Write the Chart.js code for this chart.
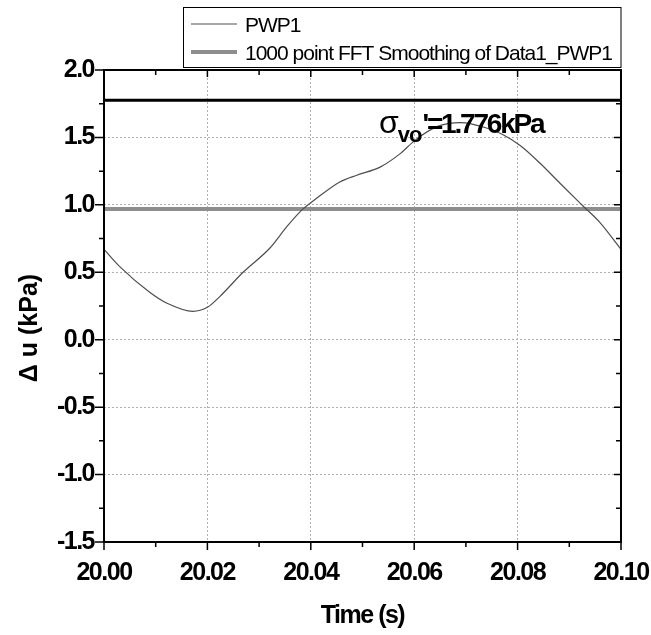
<!DOCTYPE html>
<html>
<head>
<meta charset="utf-8">
<script src="https://cdn.jsdelivr.net/npm/chart.js@4.4.1/dist/chart.umd.min.js"></script>
<style>
  html, body { margin: 0; padding: 0; background: #fff; }
</style>
</head>
<body>
<canvas id="pwp" width="651" height="635"></canvas>
<script>
// values
const timeS = [20.0000, 20.0031, 20.0089, 20.0122, 20.0172, 20.0200, 20.0224, 20.0269, 20.0321,
               20.0354, 20.0385, 20.0405, 20.0456, 20.0489, 20.0534, 20.0573, 20.0602, 20.0644,
               20.0690, 20.0740, 20.0772, 20.0805, 20.0843, 20.0882, 20.0927, 20.0959, 20.1000];
const pwp1 = [0.67, 0.54, 0.35, 0.27, 0.21, 0.24, 0.32, 0.50, 0.68,
              0.84, 0.97, 1.03, 1.17, 1.22, 1.28, 1.38, 1.48, 1.58,
              1.61, 1.57, 1.52, 1.44, 1.31, 1.16, 0.99, 0.87, 0.67];
const smoothTime = [20.00, 20.10];
const smoothVal = [0.97, 0.97];
const sigmaTime = [20.00, 20.10];
const sigmaVal = [1.776, 1.776];
const legendLabels = ['PWP1', '1000 point FFT Smoothing of Data1_PWP1'];
const sigmaText = "'=1.776kPa";

const FONT = '"Liberation Sans", Arial, sans-serif';

function toPoints(xs, ys) {
  return xs.map((x, i) => ({ x: x, y: ys[i] }));
}

// frame + inward/outward tick marks like the original plot
const axisTicks = {
  id: 'axisTicks',
  afterDraw(chart) {
    const { ctx, chartArea: a, scales: { x, y } } = chart;
    ctx.save();
    ctx.strokeStyle = '#000';
    ctx.lineWidth = 2;
    ctx.strokeRect(a.left, a.top, a.right - a.left, a.bottom - a.top);
    ctx.lineWidth = 1.5;
    ctx.beginPath();
    const yt = y.ticks.map(t => t.value);
    yt.forEach((v, i) => {
      const p = y.getPixelForValue(v);
      ctx.moveTo(a.left - 9, p); ctx.lineTo(a.left, p);
      ctx.moveTo(a.right - 7, p); ctx.lineTo(a.right, p);
      if (i < yt.length - 1) {
        const m = y.getPixelForValue((v + yt[i + 1]) / 2);
        ctx.moveTo(a.left - 5, m); ctx.lineTo(a.left, m);
        ctx.moveTo(a.right - 5, m); ctx.lineTo(a.right, m);
      }
    });
    const xt = x.ticks.map(t => t.value);
    xt.forEach((v, i) => {
      const p = x.getPixelForValue(v);
      ctx.moveTo(p, a.bottom); ctx.lineTo(p, a.bottom + 8);
      ctx.moveTo(p, a.top); ctx.lineTo(p, a.top + 7);
      if (i < xt.length - 1) {
        const m = x.getPixelForValue((v + xt[i + 1]) / 2);
        ctx.moveTo(m, a.bottom); ctx.lineTo(m, a.bottom + 5);
        ctx.moveTo(m, a.top); ctx.lineTo(m, a.top + 5);
      }
    });
    ctx.stroke();
    ctx.restore();
  }
};

// boxed legend at top right, plus titles and sigma annotation
const extras = {
  id: 'extras',
  beforeDraw(chart) {
    chart.ctx.letterSpacing = '-1.5px';
  },
  afterDraw(chart) {
    const { ctx, chartArea: a, scales: { x, y } } = chart;
    ctx.save();
    // legend box
    ctx.strokeStyle = '#000';
    ctx.lineWidth = 1;
    ctx.strokeRect(183.5, 7.5, a.right - 183.5, 60);
    ctx.letterSpacing = '-1px';
    ctx.font = '21px ' + FONT;
    ctx.fillStyle = '#000';
    ctx.textBaseline = 'alphabetic';
    ctx.textAlign = 'left';
    const rows = [24, 52];
    chart.data.datasets.slice(0, 2).forEach((ds, i) => {
      ctx.strokeStyle = ds.borderColor;
      ctx.lineWidth = ds.borderWidth;
      ctx.beginPath();
      ctx.moveTo(191, rows[i]);
      ctx.lineTo(237, rows[i]);
      ctx.stroke();
      ctx.fillText(legendLabels[i], 245, rows[i] + 8);
    });

    // axis titles
    ctx.letterSpacing = '-1.5px';
    ctx.font = 'bold 25px ' + FONT;
    ctx.textAlign = 'center';
    ctx.textBaseline = 'middle';
    ctx.fillText('Time (s)', (a.left + a.right) / 2, 616);
    ctx.save();
    ctx.translate(30, 328);
    ctx.rotate(-Math.PI / 2);
    ctx.letterSpacing = '0px';
    ctx.fillText('\u0394 u (kPa)', 0, 0);
    ctx.restore();

    // sigma'vo annotation
    const bx = x.getPixelForValue(20.0532);
    const by = y.getPixelForValue(sigmaVal[0]) + 33;
    ctx.textAlign = 'left';
    ctx.textBaseline = 'alphabetic';
    ctx.letterSpacing = '0px';
    ctx.font = '32px ' + FONT;
    ctx.fillText('\u03c3', bx, by);
    let cx = bx + ctx.measureText('\u03c3').width - 1;
    ctx.font = 'bold 22px ' + FONT;
    ctx.letterSpacing = '-1px';
    ctx.fillText('vo', cx, by + 9);
    cx += ctx.measureText('vo').width + 1;
    ctx.font = 'bold 28px ' + FONT;
    ctx.letterSpacing = '-2.2px';
    ctx.fillText(sigmaText, cx, by);
    ctx.restore();
  }
};

new Chart(document.getElementById('pwp'), {
  type: 'line',
  data: {
    datasets: [
      {
        label: legendLabels[0],
        data: toPoints(timeS, pwp1),
        borderColor: '#4e4e4e',
        borderWidth: 1.2,
        pointRadius: 0,
        cubicInterpolationMode: 'monotone',
        fill: false
      },
      {
        label: legendLabels[1],
        data: toPoints(smoothTime, smoothVal),
        borderColor: '#8e8e8e',
        borderWidth: 4,
        pointRadius: 0,
        fill: false
      },
      {
        label: 'sigma',
        data: toPoints(sigmaTime, sigmaVal),
        borderColor: '#000',
        borderWidth: 3,
        pointRadius: 0,
        fill: false
      }
    ]
  },
  options: {
    responsive: false,
    animation: false,
    devicePixelRatio: 1,
    events: [],
    layout: { padding: { top: 70, right: 30, left: 0, bottom: 0 } },
    plugins: { legend: { display: false }, tooltip: { enabled: false } },
    scales: {
      x: {
        type: 'linear',
        min: 20.0,
        max: 20.1,
        afterFit: s => { s.height = 93; s.paddingLeft = 0; s.paddingRight = 0; },
        ticks: {
          stepSize: 0.02,
          padding: 16,
          color: '#000',
          font: { family: FONT, size: 25, weight: 'bold' },
          callback: v => Number(v).toFixed(2)
        },
        grid: { color: '#b0b0b0', lineWidth: 1, drawTicks: false },
        border: { display: false, dash: [2, 2] }
      },
      y: {
        min: -1.5,
        max: 2.0,
        afterFit: s => { s.width = 104; s.paddingTop = 0; s.paddingBottom = 0; },
        ticks: {
          stepSize: 0.5,
          padding: 10,
          color: '#000',
          font: { family: FONT, size: 25, weight: 'bold' },
          callback: v => Number(v).toFixed(1)
        },
        grid: { color: '#b0b0b0', lineWidth: 1, drawTicks: false },
        border: { display: false, dash: [2, 2] }
      }
    }
  },
  plugins: [axisTicks, extras]
});
</script>
</body>
</html>
